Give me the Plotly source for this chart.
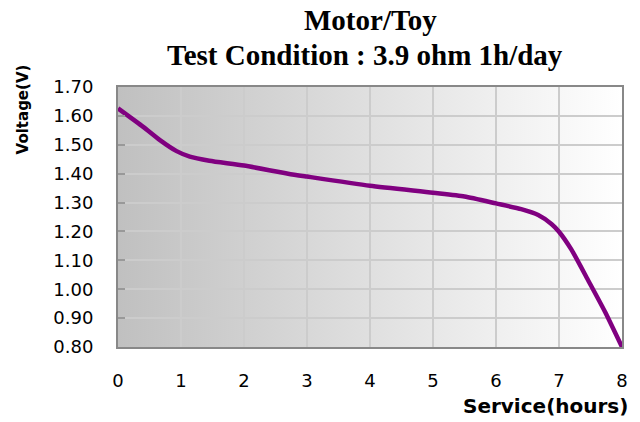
import base64
import plotly.graph_objects as go

# Data
hours = [0, 0.4, 0.66, 0.93, 1.14, 1.45, 2.0, 2.7, 3.0, 4.0, 5.0, 5.5, 6.0, 6.4,
         6.67, 6.88, 7.0, 7.2, 7.46, 7.73, 8.0]
voltage = [1.626, 1.562, 1.517, 1.478, 1.459, 1.445, 1.428, 1.400, 1.390, 1.358,
           1.334, 1.321, 1.297, 1.277, 1.257, 1.226, 1.199, 1.136, 1.032, 0.922, 0.800]

x_ticks = [0, 1, 2, 3, 4, 5, 6, 7, 8]
y_ticks = [0.80, 0.90, 1.00, 1.10, 1.20, 1.30, 1.40, 1.50, 1.60, 1.70]
y_tick_labels = [f"{v:.2f}" for v in y_ticks]

title_line1 = "Motor/Toy"
title_line2 = "Test Condition : 3.9 ohm 1h/day"
x_title = "Service(hours)"
y_title = "Voltage(V)"

# Gradient background (gray -> white) as an inline SVG image
svg = ('<svg xmlns="http://www.w3.org/2000/svg" width="200" height="20" preserveAspectRatio="none">'
       '<defs><linearGradient id="g" x1="0" y1="0" x2="1" y2="0">'
       '<stop offset="0" stop-color="#c0c0c0"/><stop offset="1" stop-color="#ffffff"/>'
       '</linearGradient></defs><rect width="200" height="20" fill="url(#g)"/></svg>')
bg_src = "data:image/svg+xml;base64," + base64.b64encode(svg.encode()).decode()

fig = go.Figure()
fig.add_trace(go.Scatter(
    x=hours, y=voltage, mode="lines",
    line=dict(color="#800080", width=4.5, shape="spline", smoothing=0.6),
    hoverinfo="skip", showlegend=False,
))

tick_font = dict(family="DejaVu Sans", size=18, color="#000000")

fig.update_layout(
    width=640, height=422,
    margin=dict(l=118, r=16, t=87, b=75),
    paper_bgcolor="#ffffff",
    plot_bgcolor="rgba(0,0,0,0)",
    showlegend=False,
    images=[dict(source=bg_src, xref="x domain", yref="y domain", x=0, y=1,
                 sizex=1, sizey=1, xanchor="left", yanchor="top",
                 sizing="stretch", layer="below")],
    xaxis=dict(
        range=[0, 8], tickvals=x_ticks, ticktext=[str(v) for v in x_ticks],
        showgrid=True, gridcolor="#cccccc", gridwidth=1.5,
        showline=True, linecolor="#888888", linewidth=2, mirror=True,
        ticks="", tickfont=tick_font, ticklabelstandoff=16, zeroline=False,
    ),
    yaxis=dict(
        range=[0.80, 1.70], tickvals=y_ticks, ticktext=y_tick_labels,
        showgrid=True, gridcolor="#cccccc", gridwidth=1.5,
        showline=True, linecolor="#888888", linewidth=2, mirror=True,
        ticks="inside", ticklen=7, tickcolor="#999999", tickwidth=1.5,
        tickfont=tick_font, ticklabelstandoff=19, zeroline=False,
    ),
    annotations=[
        dict(text=f"<b>{title_line1}</b>", xref="paper", yref="paper",
             x=0.5, y=1.2577, xanchor="center", yanchor="middle", showarrow=False,
             font=dict(family="Liberation Serif", size=29, color="#000000")),
        dict(text=f"<b>{title_line2}</b>", xref="paper", yref="paper",
             x=0.49, y=1.1212, xanchor="center", yanchor="middle", showarrow=False,
             font=dict(family="Liberation Serif", size=29, color="#000000")),
        dict(text=f"<b>{y_title}</b>", xref="paper", yref="paper",
             x=-0.1877, y=0.9154, xanchor="center", yanchor="middle", textangle=-90,
             showarrow=False, font=dict(family="DejaVu Sans", size=15, color="#000000")),
        dict(text=f"<b>{x_title}</b>", xref="paper", yref="paper",
             x=1.016, y=-0.227, xanchor="right", yanchor="middle",
             showarrow=False, font=dict(family="DejaVu Sans", size=20, color="#000000")),
    ],
)

fig.write_html("out.html", config={"displayModeBar": False},
               post_script="document.body.style.margin='0';")
